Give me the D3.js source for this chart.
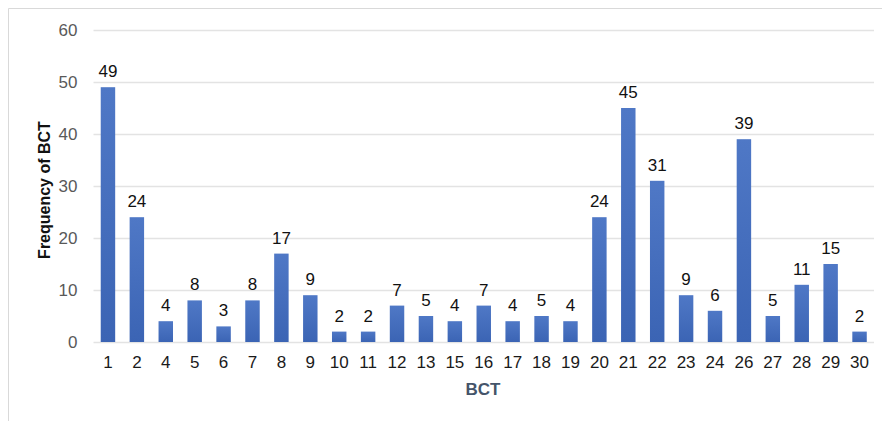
<!DOCTYPE html>
<html>
<head>
<meta charset="utf-8">
<script src="https://cdn.jsdelivr.net/npm/d3@7"></script>
<style>
  html, body { margin:0; padding:0; background:#fff; }
  #chart { width:882px; height:421px; }
  text { font-family: Arial, "Liberation Sans", sans-serif; }
</style>
</head>
<body>
<div id="chart"></div>
<script>
// BCT frequency bar chart
const categories = ['1','2','4','5','6','7','8','9','10','11','12','13','15','16','17','18','19','20','21','22','23','24','26','27','28','29','30'];
const values = [49,24,4,8,3,8,17,9,2,2,7,5,4,7,4,5,4,24,45,31,9,6,39,5,11,15,2];
const yTicks = [0,10,20,30,40,50,60];

(function(){
  const w = 882, h = 421;
  const margin = {top:30, right:8, bottom:79, left:93.5};
  const width = w - margin.left - margin.right;
  const height = h - margin.top - margin.bottom;

  const svg = d3.select('#chart').append('svg').attr('width',w).attr('height',h);

  // chart area border (only top/left visible in the reference)
  svg.append('path').attr('d',`M8.5,${h} L8.5,8.5 L${w},8.5`)
    .attr('fill','none').attr('stroke','#d9d9d9').attr('stroke-width',1);

  const grad = svg.append('defs').append('linearGradient')
    .attr('id','barGrad').attr('x1',0).attr('y1',0).attr('x2',0).attr('y2',1);
  grad.append('stop').attr('offset','0%').attr('stop-color','#4f78c6');
  grad.append('stop').attr('offset','100%').attr('stop-color','#3b64b4');

  const g = svg.append('g').attr('transform',`translate(${margin.left},${margin.top})`);

  const x = d3.scaleBand().domain(categories).range([0,width]).paddingInner(0.5).paddingOuter(0.25);
  const y = d3.scaleLinear().domain([0,60]).range([height,0]);

  // gridlines
  g.append('g').selectAll('line').data(yTicks).enter().append('line')
    .attr('x1',0).attr('x2',width)
    .attr('y1',d=>y(d)+0.5).attr('y2',d=>y(d)+0.5)
    .attr('stroke','#e3e3e3').attr('stroke-width',1.5);

  // y axis labels
  const ya = g.append('g').call(d3.axisLeft(y).tickValues(yTicks).tickSize(0).tickPadding(16));
  ya.select('.domain').remove();
  ya.selectAll('text').attr('font-size',17).attr('fill','#595959')
    .style('font-family','Arial, "Liberation Sans", sans-serif');

  // x axis labels
  const xa = g.append('g').attr('transform',`translate(0,${height})`)
    .call(d3.axisBottom(x).tickSize(0).tickPadding(14));
  xa.select('.domain').remove();
  xa.selectAll('text').attr('font-size',17).attr('fill','#1a1a1a')
    .style('font-family','Arial, "Liberation Sans", sans-serif');

  // bars
  g.selectAll('rect.bar').data(values).enter().append('rect').attr('class','bar')
    .attr('x',(d,i)=>x(categories[i]))
    .attr('y',d=>y(d))
    .attr('width',x.bandwidth())
    .attr('height',d=>height-y(d))
    .attr('fill','url(#barGrad)');

  // data labels
  g.selectAll('text.lbl').data(values).enter().append('text').attr('class','lbl')
    .attr('x',(d,i)=>x(categories[i])+x.bandwidth()/2)
    .attr('y',d=>y(d)-10)
    .attr('text-anchor','middle')
    .attr('font-size',17).attr('fill','#111')
    .text(d=>d);

  // axis titles
  svg.append('text').attr('x',483).attr('y',395)
    .attr('text-anchor','middle').attr('font-size',17).attr('font-weight','bold')
    .attr('fill','#44546a').text('BCT');

  svg.append('text').attr('transform',`translate(50,${margin.top+height/2+4}) rotate(-90)`)
    .attr('text-anchor','middle').attr('font-size',16).attr('font-weight','bold')
    .attr('fill','#111').text('Frequency of BCT');
})();
</script>
</body>
</html>
